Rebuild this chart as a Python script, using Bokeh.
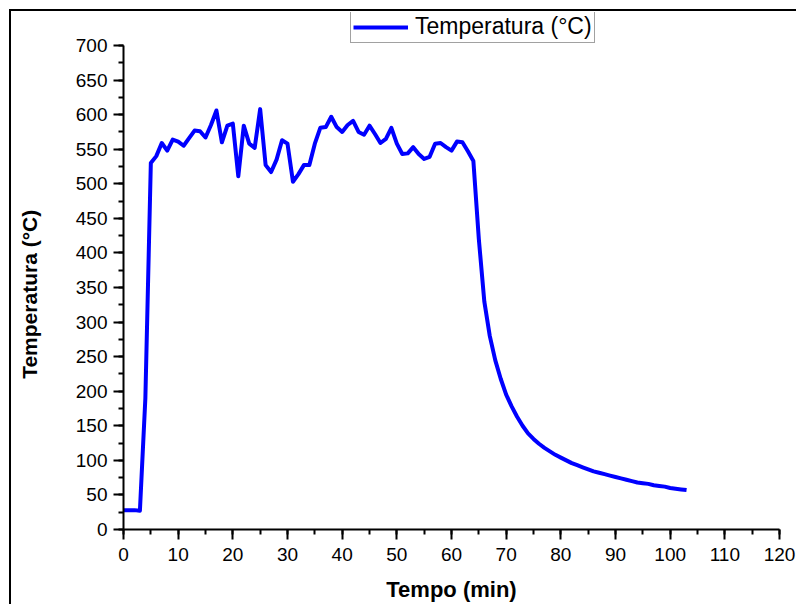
from bokeh.plotting import figure
from bokeh.models import SingleIntervalTicker, Range1d, Legend, LegendItem
from bokeh.embed import file_html
from bokeh.resources import INLINE

# Time (min)
tempo = [0, 1, 2, 3, 4, 5, 6, 7, 8, 9, 10, 11, 12, 13, 14, 15, 16, 17, 18, 19,
         20, 21, 22, 23, 24, 25, 26, 27, 28, 29, 30, 31, 32, 33, 34, 35, 36, 37, 38, 39,
         40, 41, 42, 43, 44, 45, 46, 47, 48, 49, 50, 51, 52, 53, 54, 55, 56, 57, 58, 59,
         60, 61, 62, 63, 64, 65, 66, 67, 68, 69, 70, 71, 72, 73, 74, 75, 76, 77, 78, 79,
         80, 81, 82, 83, 84, 85, 86, 87, 88, 89, 90, 91, 92, 93, 94, 95, 96, 97, 98, 99,
         100, 101, 102, 103]
# Temperature (°C)
temperatura = [28, 28, 28, 27, 190, 530, 540, 559, 548, 564, 561, 555, 566, 577, 576, 567, 585, 606, 560, 584,
               587, 511, 584, 558, 552, 608, 527, 517, 535, 563, 558, 503, 514, 527, 527, 558, 581, 582, 597, 582,
               575, 585, 591, 575, 571, 584, 572, 559, 565, 581, 558, 543, 544, 553, 543, 536, 539, 558, 559, 553,
               548, 561, 560, 547, 533, 420, 330, 280, 245, 218, 195, 178, 163, 150, 139, 131, 124, 118, 113, 108,
               104, 100, 96, 93, 90, 87, 84, 82, 80, 78, 76, 74, 72, 70, 68, 67, 66, 64, 63, 62,
               60, 59, 58, 57]

serie_nome = "Temperatura (°C)"
x_titulo = "Tempo (min)"
y_titulo = "Temperatura (°C)"

FONT = "Liberation Sans"

# Frame extends above the 700 line (room for the legend inside the frame);
# the y-axis itself is bounded to 0..700.
FRAME_TOP = 12
FRAME_BOTTOM = 529
Y700 = 45
y_max = 700 * (FRAME_BOTTOM - FRAME_TOP) / (FRAME_BOTTOM - Y700)

p = figure(width=796, height=604, output_backend="svg", toolbar_location=None,
           x_range=Range1d(0, 120), y_range=Range1d(0, y_max),
           min_border_left=123, min_border_right=17, min_border_top=FRAME_TOP,
           min_border_bottom=604 - FRAME_BOTTOM)

p.border_fill_color = None
p.background_fill_color = None
p.outline_line_color = None
p.xgrid.visible = False
p.ygrid.visible = False
p.styles = {"box-shadow": "inset 9px 9px 0 0 #ffffff, inset 11px 11px 0 0 #000000"}

r = p.line(tempo, temperatura, line_width=4, line_color="#0000FF", line_join="round")

for ax, interval in ((p.xaxis[0], 10), (p.yaxis[0], 50)):
    ax.ticker = SingleIntervalTicker(interval=interval, num_minor_ticks=2)
    ax.axis_line_width = 2
    ax.axis_line_color = "black"
    ax.major_tick_line_width = 2
    ax.minor_tick_line_width = 2
    ax.major_tick_out = 10
    ax.major_tick_in = 0
    ax.minor_tick_out = 5
    ax.minor_tick_in = 0
    ax.major_label_text_font = FONT
    ax.major_label_text_font_size = "19px"
    ax.major_label_text_color = "black"
    ax.axis_label_text_font = FONT
    ax.axis_label_text_font_style = "bold"
    ax.axis_label_text_color = "black"

p.yaxis.bounds = (0, 700)
p.xaxis.axis_label = x_titulo
# trailing no-break spaces re-centre the rotated title on the 0..700 span
p.yaxis.axis_label = y_titulo + "\u00a0" * 8
p.xaxis.axis_label_text_font_size = "22px"
p.yaxis.axis_label_text_font_size = "21px"
p.xaxis.major_label_standoff = 8
p.yaxis.major_label_standoff = 6
p.xaxis.axis_label_standoff = 13
p.yaxis.axis_label_standoff = 32

legend = Legend(items=[LegendItem(label=serie_nome, renderers=[r])],
                location=(227, FRAME_BOTTOM - 43), orientation="vertical",
                border_line_color="#444444", border_line_width=1,
                background_fill_color="white", background_fill_alpha=1,
                label_text_font=FONT, label_text_font_size="23px",
                label_text_color="black",
                glyph_width=55, glyph_height=22, label_standoff=7,
                padding=2, spacing=0, margin=0)
p.add_layout(legend, "center")

open("out.html", "w").write(file_html(p, INLINE))
